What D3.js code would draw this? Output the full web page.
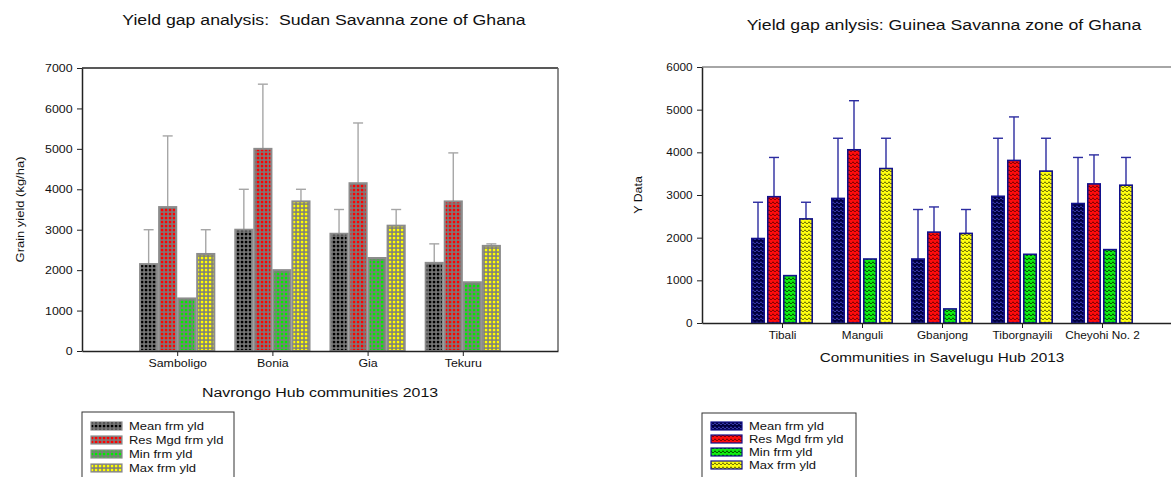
<!DOCTYPE html>
<html>
<head>
<meta charset="utf-8">
<script src="https://cdn.jsdelivr.net/npm/d3@7"></script>
<style>
  html, body { margin: 0; padding: 0; background: #fff; }
  svg text { font-family: "Liberation Sans", Arial, sans-serif; fill: #111; white-space: pre; }
</style>
</head>
<body>
<svg id="chart" width="1171" height="477"></svg>
<script>
// series labels shared by both panels
const seriesNames = ["Mean frm yld", "Res Mgd frm yld", "Min frm yld", "Max frm yld"];

// Sudan Savanna (Navrongo hub)
const sudanCommunities = ["Samboligo", "Bonia", "Gia", "Tekuru"];
const sudanMean = [2150, 3000, 2900, 2180];
const sudanMeanHi = [3000, 4000, 3500, 2650];
const sudanResMgd = [3560, 5000, 4150, 3700];
const sudanResMgdHi = [5320, 6600, 5640, 4900];
const sudanMin = [1300, 2000, 2300, 1700];
const sudanMax = [2400, 3700, 3100, 2600];
const sudanMaxHi = [3000, 4000, 3500, 2650];
const sudanTicks = [0, 1000, 2000, 3000, 4000, 5000, 6000, 7000];

// Guinea Savanna (Savelugu hub)
const guineaCommunities = ["Tibali", "Manguli", "Gbanjong", "Tiborgnayili", "Cheyohi No. 2"];
const guineaMean = [1980, 2920, 1500, 2970, 2800];
const guineaMeanHi = [2830, 4330, 2660, 4330, 3880];
const guineaResMgd = [2960, 4060, 2130, 3810, 3260];
const guineaResMgdHi = [3880, 5210, 2720, 4830, 3940];
const guineaMin = [1110, 1500, 330, 1610, 1720];
const guineaMax = [2440, 3620, 2100, 3560, 3230];
const guineaMaxHi = [2830, 4330, 2660, 4330, 3880];
const guineaTicks = [0, 1000, 2000, 3000, 4000, 5000, 6000];

const S = 1.18; // the original text is a bit wider than Arial

const svg = d3.select("#chart");
const defs = svg.append("defs");

// dotted grid fill (left panel)
function gridPattern(id, color) {
    const p = defs.append("pattern").attr("id", id)
        .attr("patternUnits", "userSpaceOnUse").attr("width", 4).attr("height", 4);
    p.append("rect").attr("width", 4).attr("height", 4).attr("fill", "#7c7c7c");
    p.append("rect").attr("x", 0.8).attr("y", 0.8).attr("width", 2.5).attr("height", 2.5).attr("fill", color);
}
// squiggle fill (right panel)
function squigglePattern(id, base, ink) {
    const p = defs.append("pattern").attr("id", id)
        .attr("patternUnits", "userSpaceOnUse").attr("width", 4).attr("height", 4);
    p.append("rect").attr("width", 4).attr("height", 4).attr("fill", base);
    p.append("path").attr("d", "M0,3 Q1,0.5 2,3 T4,3")
        .attr("fill", "none").attr("stroke", ink).attr("stroke-width", 1);
}
const gridColors = ["#000000", "#ff0000", "#00ee00", "#ffff00"];
gridColors.forEach((c, i) => gridPattern("grid" + i, c));
const squiggleColors = [["#000040", "#3a3ab0"], ["#ff0c0c", "#7a0000"], ["#10ee10", "#004a00"], ["#ffff10", "#6a6a00"]];
squiggleColors.forEach((c, i) => squigglePattern("sq" + i, c[0], c[1]));

function stext(g, x, y, str, size, anchor, rot) {
    return g.append("text")
        .attr("transform", `translate(${x},${y})` + (rot ? ` rotate(${rot})` : "") + ` scale(${S},1)`)
        .attr("text-anchor", anchor || "middle")
        .attr("font-size", size)
        .text(str);
}

function drawPanel(cfg) {
    const g = svg.append("g");
    const x = d3.scaleLinear().domain([0, cfg.slots]).range([cfg.left, cfg.left + cfg.width]);
    const y = d3.scaleLinear().domain([0, cfg.yMax]).range([cfg.bottom, cfg.top]);

    // frame
    g.append("line").attr("x1", cfg.left).attr("x2", cfg.left + cfg.width)
        .attr("y1", cfg.top).attr("y2", cfg.top).attr("stroke", cfg.topColor).attr("stroke-width", 1.5);
    if (cfg.rightColor) {
        g.append("line").attr("x1", cfg.left + cfg.width).attr("x2", cfg.left + cfg.width)
            .attr("y1", cfg.top).attr("y2", cfg.bottom).attr("stroke", cfg.rightColor).attr("stroke-width", 1.5);
    }

    const series = cfg.series;
    const n = series.length;
    series.forEach((s, si) => {
        const off = (si - (n - 1) / 2) * cfg.step;
        const rows = s.values.map((v, i) => ({v: v, hi: s.hi ? s.hi[i] : null, c: i + 1}));

        // error bars
        const eb = g.selectAll(null).data(rows.filter(d => d.hi != null)).enter().append("g");
        eb.append("line")
            .attr("x1", d => x(d.c + off)).attr("x2", d => x(d.c + off))
            .attr("y1", d => y(d.v)).attr("y2", d => y(d.hi))
            .attr("stroke", cfg.errColor).attr("stroke-width", 1.4);
        eb.append("line")
            .attr("x1", d => x(d.c + off) - 5).attr("x2", d => x(d.c + off) + 5)
            .attr("y1", d => y(d.hi)).attr("y2", d => y(d.hi))
            .attr("stroke", cfg.errColor).attr("stroke-width", 1.4);

        g.selectAll(null).data(rows).enter().append("rect")
            .attr("x", d => x(d.c + off - cfg.barW / 2))
            .attr("width", x(cfg.barW) - x(0))
            .attr("y", d => y(d.v))
            .attr("height", d => y(0) - y(d.v))
            .attr("fill", `url(#${cfg.fillId}${si})`)
            .attr("stroke", cfg.barStroke).attr("stroke-width", cfg.barStrokeW);
    });

    // AXES
    const axisY = d3.axisLeft(y).tickValues(cfg.yTicks).tickFormat(d3.format("d"))
        .tickSize(5).tickSizeOuter(0).tickPadding(3);
    const axisYG = g.append("g").attr("transform", `translate(${cfg.left},0)`).call(axisY);
    const axisX = d3.axisBottom(x).tickValues(d3.range(1, cfg.groups.length + 1))
        .tickFormat(i => cfg.groups[i - 1]).tickSize(5).tickSizeOuter(0).tickPadding(4);
    const axisXG = g.append("g").attr("transform", `translate(0,${cfg.bottom})`).call(axisX);
    [axisYG, axisXG].forEach(a => {
        a.select(".domain").attr("stroke", "#222").attr("stroke-width", 1.5);
        a.selectAll(".tick line").attr("stroke", "#222");
        a.selectAll("text").attr("font-family", null).attr("font-size", null)
            .style("font-size", cfg.tickFont + "px");
    });
    axisYG.selectAll("text").attr("transform", `scale(${S},1)`).attr("dy", "0.35em");
    axisXG.selectAll("text").attr("transform", `scale(${S},1)`);

    // titles
    stext(g, cfg.titleX, cfg.titleY, cfg.title, cfg.titleFont);
    stext(g, x(cfg.slots / 2), cfg.xLabelY, cfg.xLabel, cfg.xLabelFont);
    stext(g, cfg.yLabelX, (cfg.top + cfg.bottom) / 2, cfg.yLabel, cfg.yLabelFont, "middle", -90);

    // legend
    const lg = g.append("g").attr("transform", `translate(${cfg.legend.x},${cfg.legend.y})`);
    lg.append("rect").attr("width", cfg.legend.w).attr("height", 80)
        .attr("fill", "#fff").attr("stroke", "#333").attr("stroke-width", 1);
    series.forEach((s, si) => {
        const ry = cfg.legend.row0 + si * cfg.legend.rowH;
        lg.append("rect").attr("x", 9).attr("y", ry - 4).attr("width", 31).attr("height", 8)
            .attr("fill", `url(#${cfg.fillId}${si})`)
            .attr("stroke", cfg.barStroke).attr("stroke-width", 1.2);
        stext(lg, 47, ry + 4, s.name, cfg.legendFont, "start");
    });
}

function makeSeries(vals) {
    return seriesNames.map((name, i) => ({name: name, values: vals[i][0], hi: vals[i][1]}));
}

drawPanel({
    groups: sudanCommunities,
    series: makeSeries([[sudanMean, sudanMeanHi], [sudanResMgd, sudanResMgdHi], [sudanMin, null], [sudanMax, sudanMaxHi]]),
    slots: 5, left: 82, width: 476, top: 68, bottom: 351, yMax: 7000, yTicks: sudanTicks,
    step: 0.2, barW: 0.18, fillId: "grid", barStroke: "#8c8c8c", barStrokeW: 2,
    errColor: "#a6a6a6", topColor: "#222", rightColor: "#666",
    tickFont: 10.5,
    title: "Yield gap analysis:  Sudan Savanna zone of Ghana", titleX: 324, titleY: 25, titleFont: 15,
    xLabel: "Navrongo Hub communities 2013", xLabelY: 397, xLabelFont: 13.5,
    yLabel: "Grain yield (kg/ha)", yLabelX: 24, yLabelFont: 11,
    legendFont: 11,
    legend: {x: 82, y: 412, w: 152, row0: 14, rowH: 14}
});

drawPanel({
    groups: guineaCommunities,
    series: makeSeries([[guineaMean, guineaMeanHi], [guineaResMgd, guineaResMgdHi], [guineaMin, null], [guineaMax, guineaMaxHi]]),
    slots: 6, left: 702, width: 480, top: 67, bottom: 323, yMax: 6000, yTicks: guineaTicks,
    step: 0.2, barW: 0.155, fillId: "sq", barStroke: "#12128c", barStrokeW: 1.6,
    errColor: "#2c2ca0", topColor: "#888", rightColor: null,
    tickFont: 10,
    title: "Yield gap anlysis: Guinea Savanna zone of Ghana", titleX: 944, titleY: 30, titleFont: 15,
    xLabel: "Communities in Savelugu Hub 2013", xLabelY: 362, xLabelFont: 13,
    yLabel: "Y Data", yLabelX: 642, yLabelFont: 10.5,
    legendFont: 11,
    legend: {x: 702, y: 413, w: 154, row0: 13, rowH: 13}
});
</script>
</body>
</html>
